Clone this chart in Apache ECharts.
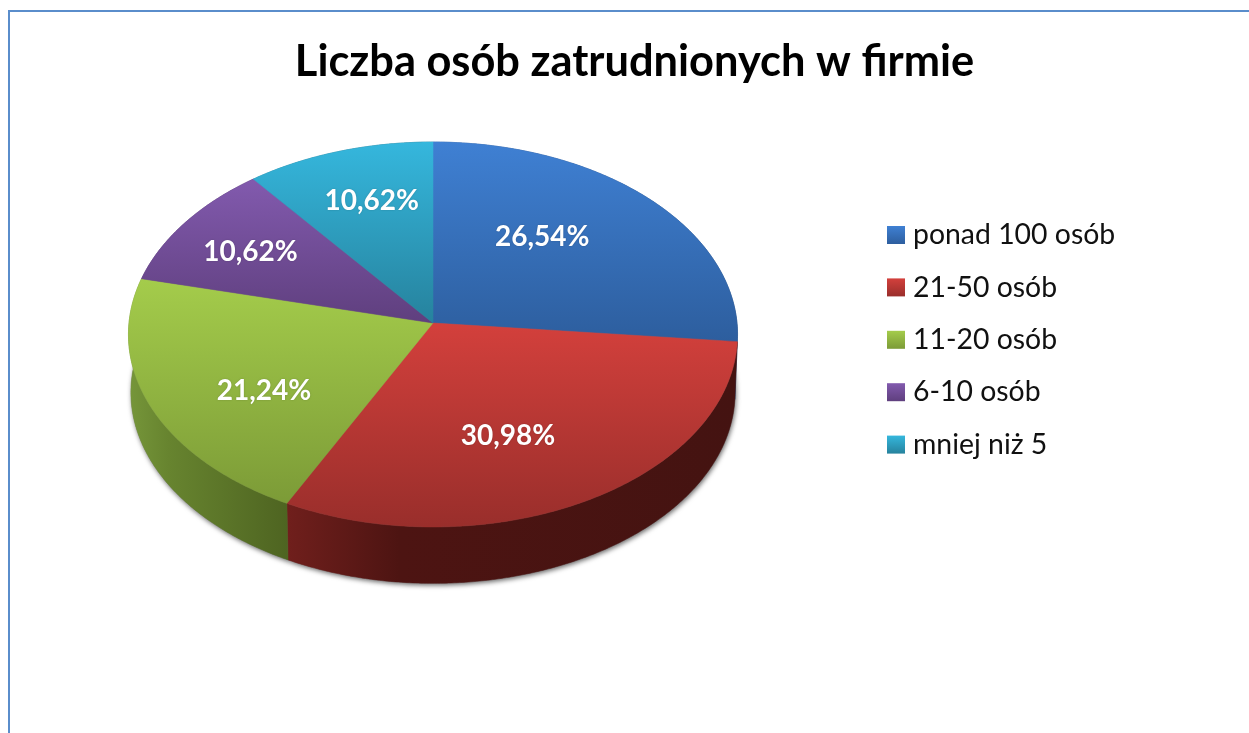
<!DOCTYPE html>
<html>
<head>
<meta charset="utf-8">
<title>Liczba osób zatrudnionych w firmie</title>
<script src="https://cdn.jsdelivr.net/npm/echarts@6/dist/echarts.min.js"></script>
<style>
  html, body { margin: 0; padding: 0; background: #fff; }
  #chart { width: 1249px; height: 733px; }
</style>
</head>
<body>
<div id="chart"></div>
<script>
const titleText = 'Liczba osób zatrudnionych w firmie'
const categories = ['ponad 100 osób', '21-50 osób', '11-20 osób', '6-10 osób', 'mniej niż 5']
const percents = [26.54, 30.98, 21.24, 10.62, 10.62]

// colours: top surface (light, dark) and side wall (left, middle, right)
const topColors = [
  ['#3f80d3', '#2d5e9e'],
  ['#d3403c', '#992e2b'],
  ['#a4cc4b', '#7c9b37'],
  ['#825aae', '#5f3f7e'],
  ['#35b7dd', '#26829d']
]
const wallColors = [
  ['#2d5e9e', '#284f88', '#22477a'],
  ['#701f1c', '#4d1412', '#441311'],
  ['#76963a', '#67842f', '#4e6421'],
  ['#5f3f7e', '#553870', '#4a3163'],
  ['#26829d', '#22748c', '#1d6579']
]

// tilted disc, a circle seen in perspective
const apex = { x: 433, y: 323 }
const disc = { a: 304, b: 191.8, k: 0.0597 }
const depth = 58
// label position as a share of the rim point at the middle of the slice
const labelShareX = [0.5, 0.48, 0.6, 0.74, 0.66]
const labelShareY = [0.7, 0.63, 0.81, 0.72, 0.72]

function rim(deg, dy, scale) {
  const t = deg * Math.PI / 180
  const u = Math.sin(t)
  const v = Math.cos(t)
  const d = 1 + disc.k * v
  return [
    apex.x + scale * disc.a * u / d,
    apex.y - scale * disc.b * v / d + dy
  ]
}

function arc(from, to, dy, scale) {
  const pts = []
  const n = Math.ceil(Math.abs(to - from) * 2)
  for (let i = 0; i <= n; i++) {
    pts.push(rim(from + (to - from) * i / n, dy, scale))
  }
  return pts
}

function sliceAngles(idx) {
  const total = percents.reduce((a, b) => a + b, 0)
  const before = percents.slice(0, idx).reduce((a, b) => a + b, 0)
  return [before / total * 360, (before + percents[idx]) / total * 360]
}

function bounds(pts) {
  const xs = pts.map(p => p[0])
  const ys = pts.map(p => p[1])
  return { x0: Math.min(...xs), x1: Math.max(...xs), y0: Math.min(...ys), y1: Math.max(...ys) }
}

function renderSlice(params, api) {
  const idx = params.seriesIndex
  const [from, to] = sliceAngles(idx)
  const top = [[apex.x, apex.y]].concat(arc(from, to, 0, 1))
  const wall = arc(from, to, 0, 1).concat(arc(to, from, depth, 0.992))
  const floor = [[apex.x, apex.y + depth]].concat(arc(from, to, depth, 0.992))
  const tb = bounds(top)
  const wb = bounds(wall)
  const topFill = new echarts.graphic.LinearGradient(0, tb.y0, 0, tb.y1, [
    { offset: 0, color: topColors[idx][0] },
    { offset: 1, color: topColors[idx][1] }
  ], true)
  const wallFill = new echarts.graphic.LinearGradient(wb.x0, 0, wb.x1, 0, [
    { offset: 0, color: wallColors[idx][0] },
    { offset: 0.25, color: wallColors[idx][1] },
    { offset: 1, color: wallColors[idx][2] }
  ], true)
  const mid = rim((from + to) / 2, 0, 1)
  const text = api.value(0).toFixed(2).replace('.', ',') + '%'
  return {
    type: 'group',
    children: [
      {
        // soft shadow under the lower edge only
        type: 'polygon',
        z2: 0,
        shape: { points: floor },
        style: { fill: '#777', shadowBlur: 5, shadowColor: 'rgba(0,0,0,0.6)', shadowOffsetY: 2, shadowOffsetX: 1 }
      },
      {
        type: 'polygon',
        z2: 1,
        shape: { points: wall },
        style: { fill: wallFill, stroke: wallFill, lineWidth: 0.5 }
      },
      {
        type: 'polygon',
        z2: 2,
        shape: { points: top },
        style: { fill: topFill, stroke: topFill, lineWidth: 0.5 }
      },
      {
        type: 'text',
        z2: 3,
        style: {
          x: 1 + apex.x + (mid[0] - apex.x) * labelShareX[idx],
          y: 1 + apex.y + (mid[1] - apex.y) * labelShareY[idx],
          text: text,
          fill: '#fff',
          font: 'bold 28px Lato, sans-serif',
          align: 'center',
          verticalAlign: 'middle',
          textShadowColor: 'rgba(0,0,0,0.2)',
          textShadowBlur: 2
        }
      }
    ]
  }
}

const chart = echarts.init(document.getElementById('chart'), null, { renderer: 'canvas' })

chart.setOption({
  animation: false,
  backgroundColor: '#fff',
  title: {
    text: titleText,
    left: 629.5,
    top: 35,
    textAlign: 'center',
    textStyle: { fontFamily: 'Lato, sans-serif', fontSize: 43.4, fontWeight: 'bold', color: '#000' }
  },
  legend: {
    orient: 'vertical',
    left: 882,
    top: 216,
    data: categories,
    icon: 'rect',
    itemWidth: 18,
    itemHeight: 18,
    itemGap: 24.4,
    textStyle: { fontFamily: 'Lato, sans-serif', fontSize: 28.4, color: '#111', padding: [0, 0, 0, 3] },
    selectedMode: false
  },
  graphic: [{
    type: 'polyline',
    silent: true,
    shape: { points: [[9, 733], [9, 11], [1249, 11]] },
    style: { stroke: '#5a8dcb', lineWidth: 2, fill: null }
  }],
  series: categories.map((name, i) => ({
    type: 'custom',
    name: name,
    coordinateSystem: 'none',
    silent: true,
    itemStyle: {
      color: new echarts.graphic.LinearGradient(0, 0, 0, 1, [
        { offset: 0, color: topColors[i][0] },
        { offset: 1, color: topColors[i][1] }
      ])
    },
    renderItem: renderSlice,
    data: [percents[i]]
  }))
})
</script>
</body>
</html>
